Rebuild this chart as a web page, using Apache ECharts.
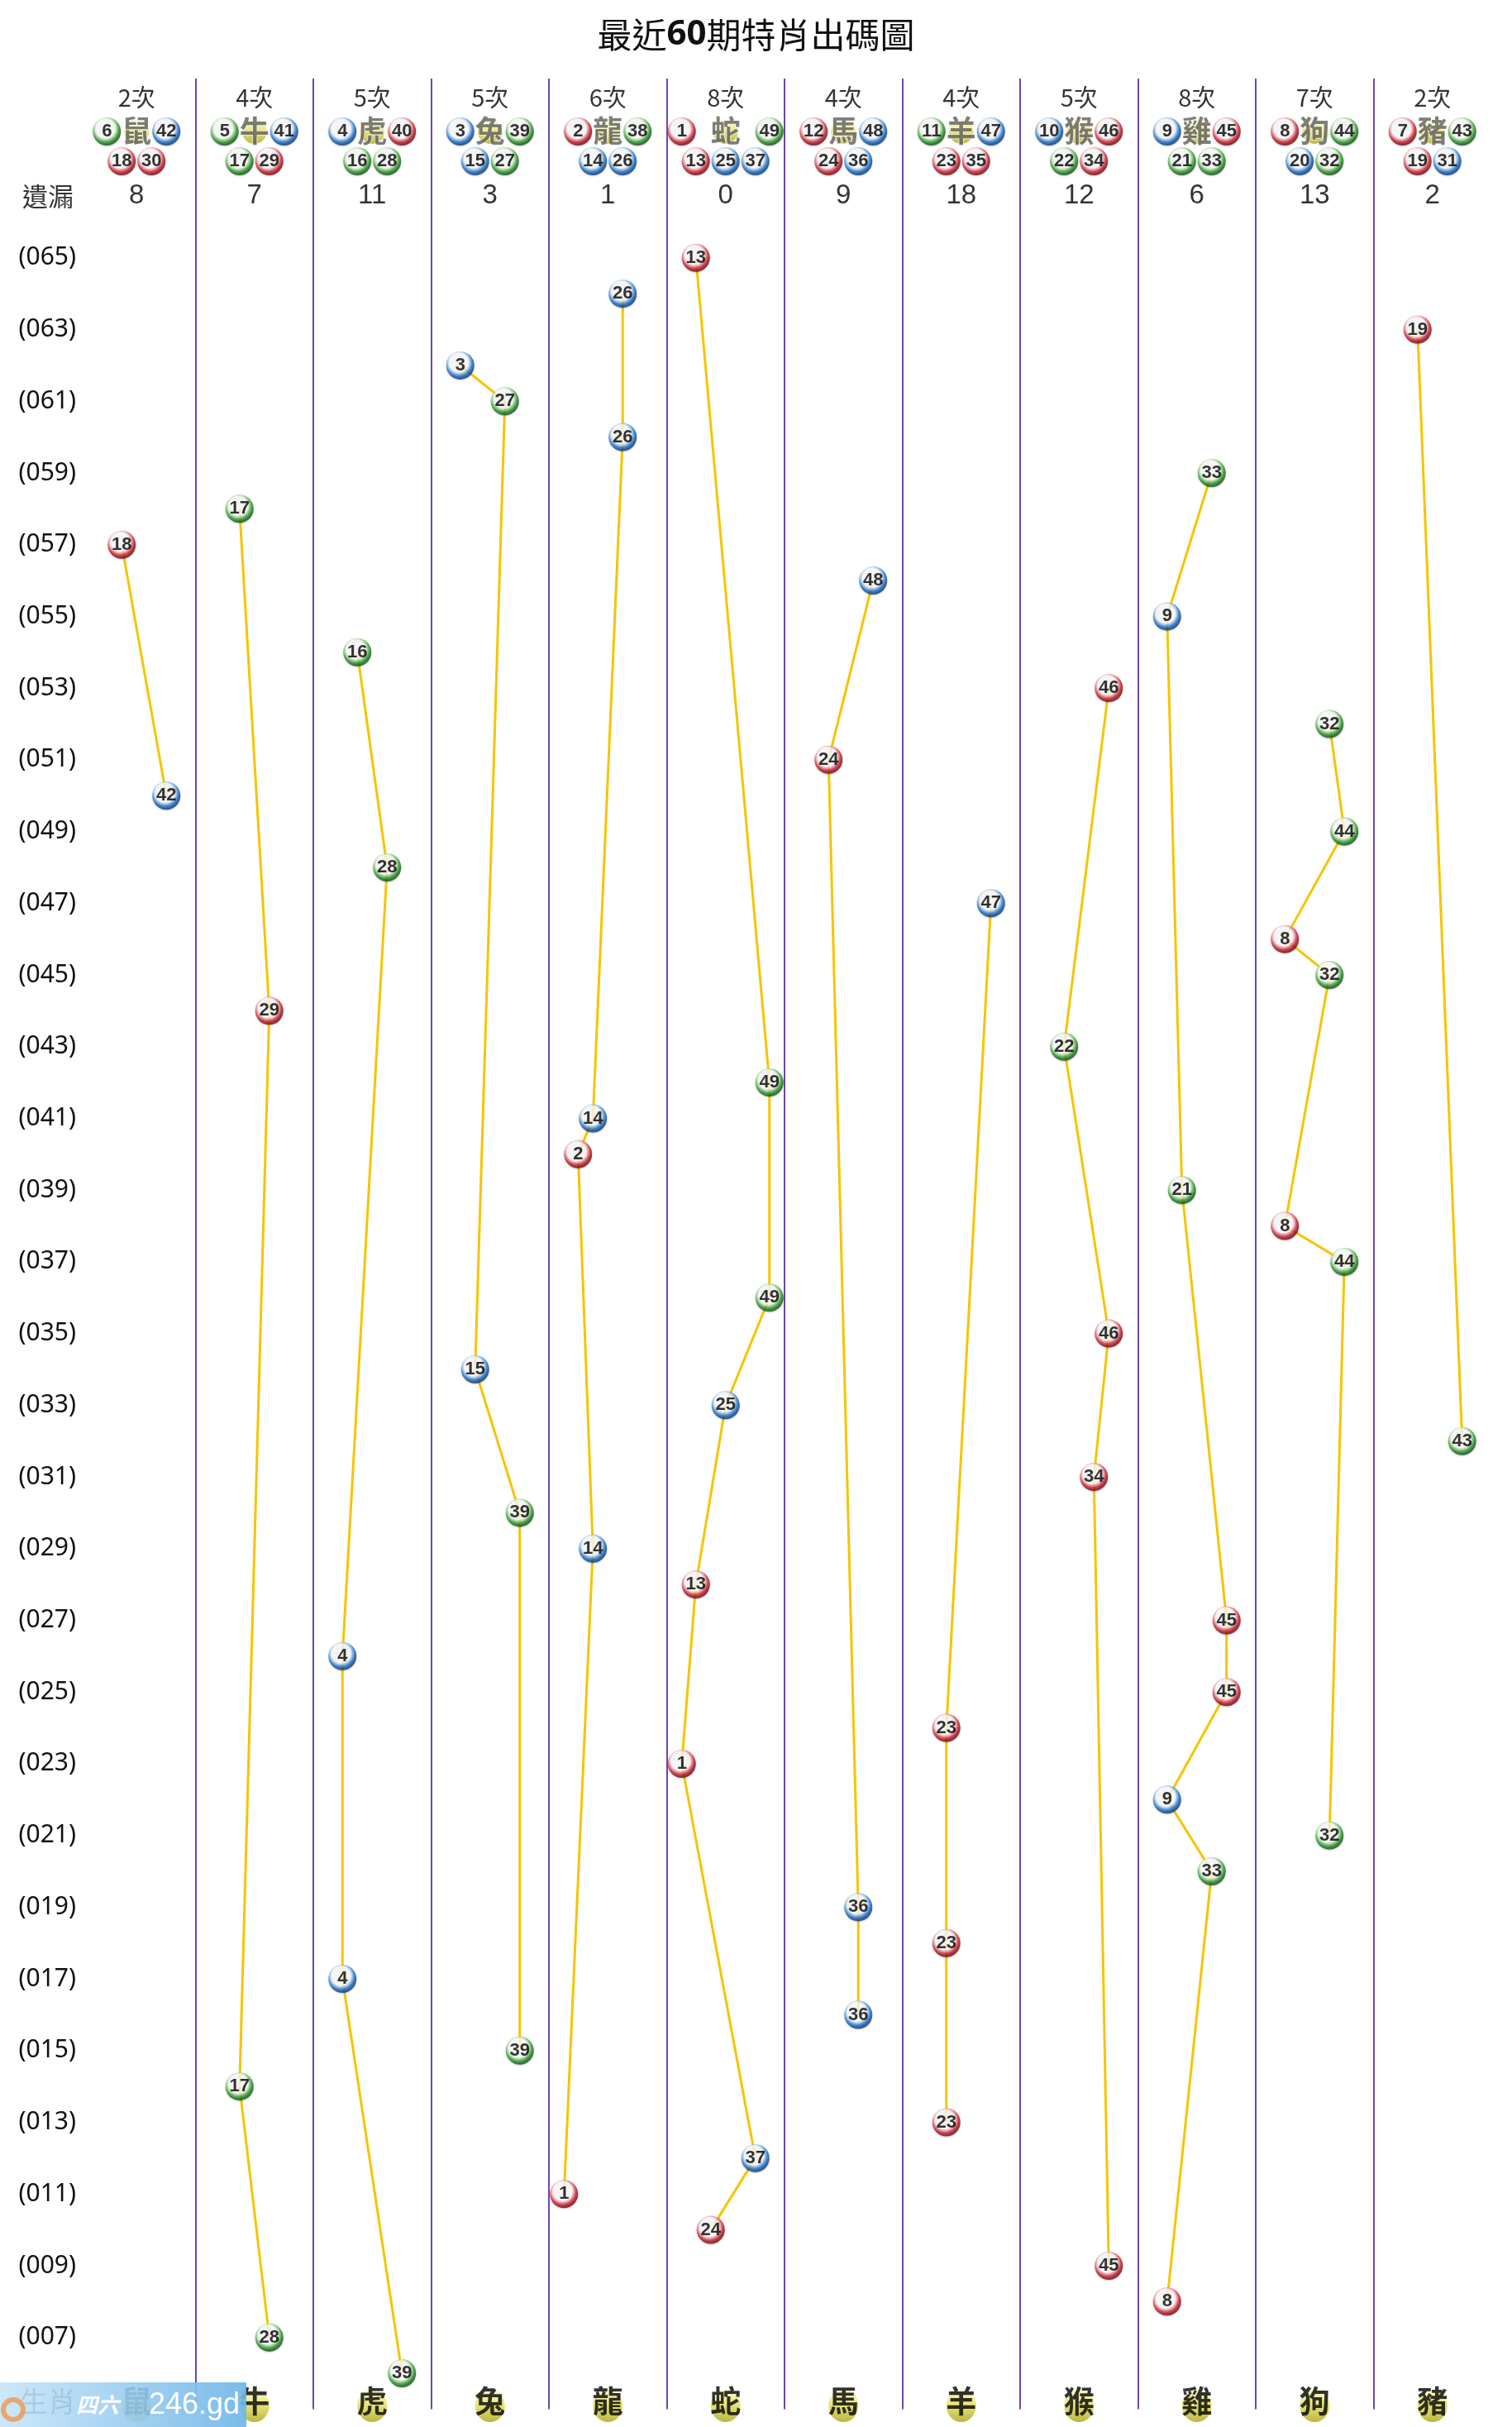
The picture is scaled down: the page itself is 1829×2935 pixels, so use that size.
<!DOCTYPE html>
<html><head><meta charset="utf-8">
<script src="https://cdn.jsdelivr.net/npm/echarts@6/dist/echarts.min.js"></script>
<style>html,body{margin:0;padding:0;background:#fff}#c{width:1829px;height:2935px}</style>
</head><body><div id="c"></div><script>
// ---------- data ----------
const zodiacs = ['鼠','牛','虎','兔','龍','蛇','馬','羊','猴','雞','狗','豬'];
const hitCounts = [2,4,5,5,6,8,4,4,5,8,7,2];
const missCounts = [8,7,11,3,1,0,9,18,12,6,13,2];
const zodiacNumbers = [[6,18,30,42],[5,17,29,41],[4,16,28,40],[3,15,27,39],[2,14,26,38],[1,13,25,37,49],[12,24,36,48],[11,23,35,47],[10,22,34,46],[9,21,33,45],[8,20,32,44],[7,19,31,43]];
const periods = [65,64,63,62,61,60,59,58,57,56,55,54,53,52,51,50,49,48,47,46,45,44,43,42,41,40,39,38,37,36,35,34,33,32,31,30,29,28,27,26,25,24,23,22,21,20,19,18,17,16,15,14,13,12,11,10,9,8,7,6];
const drawZodiac = ['蛇','龍','豬','兔','兔','龍','雞','牛','鼠','馬',
                    '雞','虎','猴','狗','馬','鼠','狗','虎','羊','狗',
                    '狗','牛','猴','蛇','龍','龍','雞','狗','狗','蛇',
                    '猴','兔','蛇','豬','猴','兔','龍','蛇','雞','虎',
                    '雞','羊','蛇','雞','狗','雞','馬','羊','虎','馬',
                    '兔','牛','羊','蛇','龍','蛇','猴','雞','牛','虎'];
const drawNumber = [13,26,19,3,27,26,33,17,18,48,
                    9,16,46,32,24,42,44,28,47,8,
                    32,29,22,49,14,2,21,8,44,49,
                    46,15,25,43,34,39,14,13,45,4,
                    45,23,1,9,32,33,36,23,4,36,
                    39,17,23,37,1,24,45,8,28,39];
const newYearFirstPeriod = 12; // periods before this use previous-year zodiac numbering
const redBalls = [1,2,7,8,12,13,18,19,23,24,29,30,34,35,40,45,46];
const blueBalls = [3,4,9,10,14,15,20,25,26,31,36,37,41,42,47,48];
const greenBalls = [5,6,11,16,17,21,22,27,28,32,33,38,39,43,44,49];

// ---------- layout ----------
const W = 1829, H = 2935;
const GRID_LEFT = 94, COL_PX = 142.5, GRID_TOP = 95, Y_MIN = 5, Y_MAX = 70, ROW_PX = 43.36;
const GRID_H = (Y_MAX - Y_MIN) * ROW_PX;
function pxToY(p){ return Y_MAX - (p - GRID_TOP) / ROW_PX; }
function pxToX(p){ return (p - GRID_LEFT) / COL_PX; }
const ROW_COUNT = pxToY(118), ROW_BALL1 = pxToY(159), ROW_BALL2 = pxToY(195), ROW_MISS = pxToY(237);
const ROW_BOTTOM = pxToY(2909);
const OFF4 = [-36,-18,18,36], OFF5 = [-53,-36,0,36,53];

function numbersOf(z, base){
  const s = [];
  for (let k = 1; k <= 49; k++) if ((((base - (k - 1)) % 12) + 12) % 12 === z) s.push(k);
  return s;
}
function offsetFor(z, n, period){
  const base = period >= newYearFirstPeriod ? 5 : 4;
  const set = numbersOf(z, base);
  const offs = set.length === 5 ? OFF5 : OFF4;
  return offs[set.indexOf(n)] / COL_PX;
}

const G = echarts.graphic;
function ballGrad(light, mid, dark){
  return new G.RadialGradient(0.45, 0.4, 0.56, [
    {offset:0, color:'#ffffff'},
    {offset:0.6, color:'#ffffff'},
    {offset:0.7, color:light},
    {offset:0.85, color:mid},
    {offset:1, color:dark}
  ]);
}
const GRAD = {
  red: ballGrad('#f2a8b0','#d2222f','#7e0a16'),
  blue: ballGrad('#a0ccf2','#1f72cc','#0c3f86'),
  green: ballGrad('#ace0a0','#2e9c30','#135c16')
};
function waveOf(n){ return redBalls.includes(n) ? 'red' : blueBalls.includes(n) ? 'blue' : 'green'; }
const NUM_FONT = '"Liberation Sans",Arial,sans-serif';
function ballPoint(x, y, n){
  return {
    value:[x, y, n],
    itemStyle:{color: GRAD[waveOf(n)], shadowColor:'rgba(0,0,0,0.25)', shadowBlur:2, shadowOffsetY:1},
    label:{show:true, formatter:String(n), color:'#000', fontSize:22, fontWeight:'bold', fontFamily:NUM_FONT}
  };
}

// ---------- build series data ----------
const drawBalls = [];
const lineSeries = [];
const perZodiacPts = zodiacs.map(() => []);
for (let i = 0; i < periods.length; i++) {
  const z = zodiacs.indexOf(drawZodiac[i]);
  const x = z + 0.5 + offsetFor(z, drawNumber[i], periods[i]);
  perZodiacPts[z].push([x, periods[i]]);
  drawBalls.push(ballPoint(x, periods[i], drawNumber[i]));
}
perZodiacPts.forEach((pts, z) => {
  lineSeries.push({
    type:'line', data:pts, showSymbol:false, symbol:'none', silent:true, z:2,
    lineStyle:{color:'#f6c400', width:3}
  });
});

const headerBalls = [];
zodiacNumbers.forEach((nums, z) => {
  const offs = nums.length === 5 ? OFF5 : OFF4;
  nums.forEach((n, k) => {
    const x = z + 0.5 + offs[k] / COL_PX;
    const row = (k === 0 || k === nums.length - 1) ? ROW_BALL1 : ROW_BALL2;
    headerBalls.push(ballPoint(x, row, n));
  });
});

const yellowBall = new G.LinearGradient(0,0,0,1,[
  {offset:0, color:'#fbfad0'},{offset:0.45, color:'#e6e05a'},{offset:1, color:'#a8a414'}
]);
const headerChars = zodiacs.map((c, z) => ({
  value:[z + 0.5, ROW_BALL1, c],
  label:{show:true, formatter:c, fontSize:36, fontWeight:'bold', color:'#5e5e5a',
         textBorderColor:'rgba(255,255,255,0.75)', textBorderWidth:2,
         fontFamily:'"Noto Sans CJK TC",sans-serif', offset:[0,-1]}
}));
const bottomChars = zodiacs.map((c, z) => ({
  value:[z + 0.5, ROW_BOTTOM, c],
  label:{show:true, formatter:c, fontSize:37, fontWeight:'bold', color:'#000',
         fontFamily:'"Noto Sans CJK TC",sans-serif', offset:[0,-5]}
}));
bottomChars.push({
  value:[pxToX(58), ROW_BOTTOM, '生肖'], symbolSize:0,
  label:{show:true, formatter:'生肖', fontSize:34, color:'#222', fontFamily:'"Noto Sans CJK TC",sans-serif', offset:[0,-5]}
});

const textPts = [];
zodiacs.forEach((c, z) => {
  textPts.push({value:[z + 0.5, ROW_COUNT], label:{formatter: hitCounts[z] + '次', fontSize:29,
    fontFamily:'"Noto Sans CJK TC",sans-serif', color:'#000'}});
  textPts.push({value:[z + 0.5, ROW_MISS], label:{formatter: String(missCounts[z]), fontSize:33,
    fontFamily:'"Liberation Sans",Arial,sans-serif', color:'#000'}});
});
textPts.push({value:[pxToX(58), ROW_MISS], label:{formatter:'遺漏', fontSize:31,
  fontFamily:'"Noto Sans CJK TC",sans-serif', color:'#000'}});

const option = {
  animation:false,
  backgroundColor:'#ffffff',
  title:{
    text:'最近{b|60}期特肖出碼圖', left:'center', top:16,
    textStyle:{fontSize:42, fontWeight:'normal', color:'#111', fontFamily:'"Noto Sans CJK TC",sans-serif',
      rich:{b:{fontSize:42, fontWeight:'bold', color:'#111', fontFamily:'"Noto Sans","Liberation Sans",sans-serif'}}}
  },
  grid:{left:GRID_LEFT, top:GRID_TOP, width:COL_PX * zodiacs.length, height:GRID_H},
  xAxis:{
    type:'value', min:0, max:zodiacs.length, interval:1,
    axisLine:{show:false}, axisTick:{show:false}, axisLabel:{show:false},
    splitLine:{show:true, showMinLine:false, showMaxLine:false, lineStyle:{color:'#6c46b0', width:2}}
  },
  yAxis:{
    type:'value', min:Y_MIN, max:Y_MAX, interval:1,
    axisLine:{show:false}, axisTick:{show:false}, splitLine:{show:false},
    axisLabel:{
      margin:2, fontSize:30, color:'#111', fontFamily:'"Noto Sans","Liberation Sans",sans-serif',
      formatter:v => (v % 2 === 1 && v >= 7 && v <= 65) ? '(' + String(v).padStart(3,'0') + ')' : ''
    }
  },
  series:[
    ...lineSeries,
    {type:'scatter', data:drawBalls, symbol:'circle', symbolSize:34, z:4, clip:false, silent:true,
     label:{show:true, position:'inside'}},
    {type:'scatter', data:headerBalls, symbol:'circle', symbolSize:34, z:4, clip:false, silent:true,
     label:{show:true, position:'inside'}},
    {type:'scatter', data:headerChars, symbol:'circle', symbolSize:30, z:3, clip:false, silent:true,
     itemStyle:{color:yellowBall}, label:{show:true, position:'inside'}},
    {type:'scatter', data:bottomChars, symbol:'circle', symbolSize:[36,40], z:3, clip:false, silent:true,
     itemStyle:{color:yellowBall}, label:{show:true, position:'inside'}},
    {type:'scatter', data:textPts, symbol:'rect', symbolSize:1, z:3, clip:false, silent:true,
     itemStyle:{color:'rgba(0,0,0,0)'}, label:{show:true, position:'inside'}}
  ],
  graphic:{elements:[
    {type:'rect', z:100, shape:{x:0, y:2881, width:298, height:54},
     style:{fill:new G.LinearGradient(0,0,1,0,[{offset:0,color:'rgba(196,228,248,0.86)'},{offset:1,color:'rgba(112,182,232,0.92)'}])}},
    {type:'circle', z:101, shape:{cx:16, cy:2914, r:12}, style:{fill:'none', stroke:'rgba(238,150,80,0.8)', lineWidth:6}},
    {type:'text', z:101, x:92, y:2908, style:{text:'四六', fill:'rgba(255,255,255,0.95)', fontSize:26, fontStyle:'italic', fontWeight:'bold',
      fontFamily:'"Noto Sans CJK TC",sans-serif', verticalAlign:'middle', align:'left'}},
    {type:'text', z:101, x:180, y:2909, style:{text:'246.gd', fill:'#ffffff', fontSize:36,
      fontFamily:'"Liberation Sans",Arial,sans-serif', verticalAlign:'middle', align:'left'}}
  ]}
};
const chart = echarts.init(document.getElementById('c'), null, {width:W, height:H, renderer:'canvas'});
chart.setOption(option);
</script></body></html>
